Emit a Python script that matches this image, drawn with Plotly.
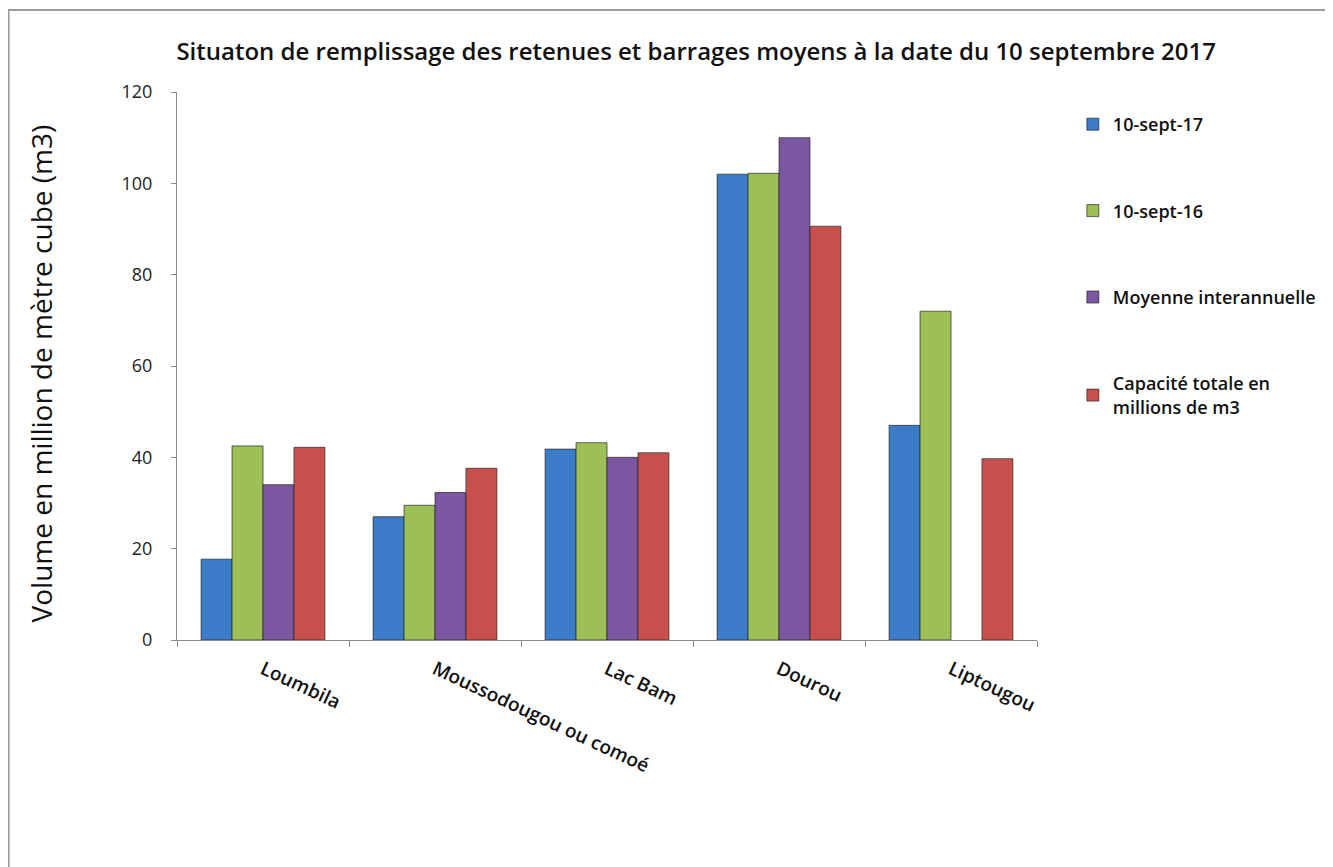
import plotly.graph_objects as go

categories = ["Loumbila", "Moussodougou ou comoé", "Lac Bam", "Dourou", "Liptougou"]
series_names = ["10-sept-17", "10-sept-16", "Moyenne interannuelle", "Capacité totale en<br>millions de m3"]
sept17 = [17.7, 27.0, 41.8, 102.0, 47.0]
sept16 = [42.5, 29.5, 43.2, 102.2, 72.0]
moyenne = [34.0, 32.3, 40.0, 110.0, None]
capacite = [42.2, 37.6, 41.0, 90.6, 39.7]
colors = ["#3B7BC8", "#9CBF57", "#7B57A2", "#C8504C"]
y_ticks = [0, 20, 40, 60, 80, 100, 120]

OFF = 8  # page body margin
W, H = 1333 - OFF, 867 - OFF
L, R, T, B = 177 - OFF, 1040 - OFF, 92 - OFF, 640 - OFF

def px_x(p):  # p = window pixel
    return (p - OFF - L) / (R - L)

def px_y(p):
    return (B - (p - OFF)) / (B - T)

fig = go.Figure()
for i, (name, vals) in enumerate(zip(series_names, [sept17, sept16, moyenne, capacite])):
    fig.add_trace(go.Bar(
        x=categories, y=vals, name=name,
        marker=dict(color=colors[i], line=dict(color="rgba(30,30,30,0.65)", width=1)),
        legendgroup=f"g{i}",
    ))

fig.update_layout(
    width=W, height=H,
    margin=dict(l=L, r=W - R, t=T, b=H - B),
    paper_bgcolor="white", plot_bgcolor="white",
    barmode="group", bargap=0.28, bargroupgap=0,
    font=dict(family="Open Sans, Liberation Sans, sans-serif", color="#111"),
    title=dict(
        text="Situaton de remplissage des retenues et barrages moyens à la date du 10 septembre 2017",
        font=dict(size=24, weight=600, color="#111"),
        x=px_x(698), xref="paper", xanchor="center",
        y=1 - (52 - OFF) / H, yanchor="middle",
    ),
    showlegend=True,
    legend=dict(
        x=px_x(1076), y=px_y(106), xanchor="left", yanchor="top",
        xref="paper", yref="paper",
        font=dict(size=18, weight=600, color="#111"),
        tracegroupgap=60, bgcolor="rgba(0,0,0,0)",
        itemwidth=30, traceorder="grouped",
    ),
    xaxis=dict(
        showline=True, linecolor="#8c8c8c", linewidth=1,
        ticks="outside", tickson="boundaries", ticklen=6, tickcolor="#8c8c8c",
        tickangle=25, tickfont=dict(size=19, weight=600, color="#111"),
        ticklabelstandoff=10,
        showgrid=False, zeroline=False,
    ),
    yaxis=dict(
        range=[0, 120], tickvals=y_ticks, ticktext=[str(v) for v in y_ticks],
        showline=True, linecolor="#8c8c8c", linewidth=1,
        ticks="outside", ticklen=5, tickcolor="#8c8c8c",
        tickfont=dict(size=18, color="#222"),
        ticklabelstandoff=15,
        showgrid=False, zeroline=False,
    ),
    annotations=[dict(
        text="Volume en million de mètre cube (m3)", textangle=-90,
        xref="paper", yref="paper", x=px_x(41), y=px_y(373),
        xanchor="center", yanchor="middle", showarrow=False,
        font=dict(size=28, color="#111"),
    )],
)

fig.add_shape(type="rect", xref="paper", yref="paper",
              x0=px_x(8), x1=px_x(1360), y0=px_y(10), y1=px_y(900),
              line=dict(color="#9a9a9a", width=2), fillcolor="rgba(0,0,0,0)", layer="below")

fig.write_html("out.html")
